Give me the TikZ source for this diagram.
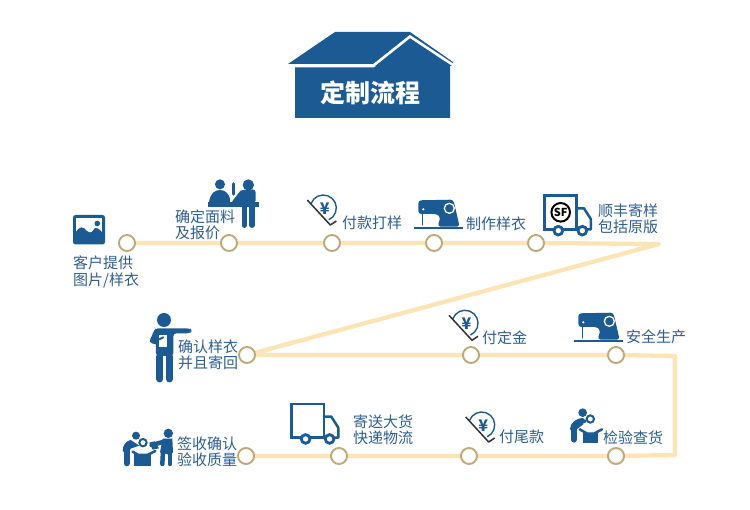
\documentclass[tikz,border=0pt]{standalone}
\usepackage{fontspec}
\setmainfont{Noto Sans CJK SC}
\usetikzlibrary{backgrounds}
\definecolor{navy}{HTML}{1B5A92}
\definecolor{txtblue}{HTML}{2E5F93}
\definecolor{trackc}{HTML}{FCE4B4}
\definecolor{ringc}{HTML}{BFA877}
\tikzset{
  stepdot/.style={circle,draw=ringc,line width=1.9pt,fill=white,minimum size=16pt,inner sep=0pt},
  lab/.style={anchor=west,text=txtblue,font=\fontsize{15}{16.5}\selectfont,align=left,inner sep=0pt},
  track/.style={draw=trackc,line width=4.3pt,line join=round,line cap=round},
  ic/.style={fill=navy,draw=none},
  iline/.style={draw=navy,line cap=round,line join=round},
}
% all icons are drawn in zoomed (3x) pixel units
\newcommand{\sewing}[2]{\begin{scope}[shift={(#1,#2)},x=0.3333pt,y=-0.3333pt]
  \path[ic,rounded corners=3pt] (55,102) -- (55,61) -- (160,59) -- (179,140) -- (113,140) -- (121,112) -- (112,102) -- cycle;
  \draw[iline,line width=1.4pt] (68,98) -- (68,135);
  \draw[iline,line width=2.4pt,line cap=butt] (42,144) -- (188,144);
  \path[fill=white] (70,88) circle[radius=3.5];
  \draw[draw=white,line width=1.3pt,fill=navy] (148,85) circle[radius=15];
\end{scope}}
\newcommand{\truckbody}[2]{\begin{scope}[shift={(#1,#2)},x=0.3333pt,y=-0.3333pt]
  \draw[iline,line width=2.5pt,line cap=butt,line join=miter] (530,148) -- (433,148) -- (433,47) -- (530,47) -- cycle;
  \draw[iline,line width=2.5pt] (530,85) -- (552,85) -- (573,118) -- (573,148) -- (530,148);
  \draw[navy,line width=2.8pt,fill=white] (475,152) circle[radius=13];
  \draw[navy,line width=2.8pt,fill=white] (547,152) circle[radius=13];
\end{scope}}
\newcommand{\yentag}[2]{\begin{scope}[shift={(#1,#2)}]
  \draw[navy,line width=1.4pt] (-12.2,-4.45) arc[start angle=200,end angle=425,radius=13];
  \draw[black!80,line width=1.5pt,line join=round] (-16,-8) -- (7,17) -- (13,13);
  \node[text=navy,inner sep=0pt,font=\fontsize{16}{16}\selectfont\bfseries] at (1.5,0.5) {¥};
\end{scope}}
\begin{document}
\begin{tikzpicture}[x=1pt,y=-1pt]
\useasboundingbox (0,0) rectangle (750,510);

% header house
\path[ic] (288,64) -- (335,32) -- (410,32) -- (453,62) -- (453,66) -- (288,66) -- cycle;
\draw[white,line width=2.6pt,line join=miter] (284,65.5) -- (373.5,65.5) -- (410,36.5) -- (456,67);
\path[fill=white] (450,66) rectangle (455,70);
\path[fill=white] (286,66) rectangle (295,70);
\path[ic] (295,67.5) -- (374,67.5) -- (410,40) -- (450,65) -- (450,118) -- (295,118) -- cycle;
\node[text=white,inner sep=0pt,font=\fontsize{25}{25}\selectfont\bfseries] (title) at (370.5,93) {定制流程};

% step dots
\node[stepdot] (a1) at (127,243) {};
\node[stepdot] (a2) at (229,243) {};
\node[stepdot] (a3) at (332,243) {};
\node[stepdot] (a4) at (434,243) {};
\node[stepdot] (a5) at (536,243) {};
\coordinate (apex) at (659,244);
\node[stepdot] (b1) at (247,355) {};
\node[stepdot] (b2) at (471,355) {};
\node[stepdot] (b3) at (616,355) {};
\coordinate (c1) at (675,356);
\coordinate (c2) at (675,455);
\node[stepdot] (d1) at (616,456) {};
\node[stepdot] (d2) at (469,456) {};
\node[stepdot] (d3) at (339,456) {};
\node[stepdot] (d4) at (246,456) {};
\begin{scope}[on background layer]
\path[fill=white] (0,0) rectangle (750,510);
\draw[track] (a1.center) -- (a2.center) -- (a3.center) -- (a4.center) -- (a5.center) -- (apex) -- (b1.center) -- (b2.center) -- (b3.center) -- (c1) -- (c2) -- (d1.center) -- (d2.center) -- (d3.center) -- (d4.center);
\end{scope}

% labels
\node[lab] at (73,272) {客户提供\\图片/样衣};
\node[lab] at (175,225) {确定面料\\及报价};
\node[lab] at (342,223) {付款打样};
\node[lab] at (466,224) {制作样衣};
\node[lab] at (598,219) {顺丰寄样\\包括原版};
\node[lab] at (178,355) {确认样衣\\并且寄回};
\node[lab] at (482,338) {付定金};
\node[lab] at (626,337) {安全生产};
\node[lab] at (177,452) {签收确认\\验收质量};
\node[lab] at (353,430) {寄送大货\\快递物流};
\node[lab] at (499,437) {付尾款};
\node[lab] at (603,438) {检验查货};

% picture icon
\path[ic,rounded corners=2.5pt] (73,215) rectangle (105,244.5);
\path[fill=white] (76,218.5) rectangle (102,238);
\path[ic] (76,240) -- (76,232) .. controls (80,226) and (83,226) .. (87,231) .. controls (91,234) and (92,232) .. (95,228) .. controls (97,227) and (99,229) .. (102,232) -- (102,240) -- cycle;
\path[ic] (97.3,223.5) circle[radius=2.8];

% two people at the table
\begin{scope}[shift={(60,170)},x=0.3333pt,y=-0.3333pt]
  \path[ic] (480,43) circle[radius=15];
  \path[ic] (565,45) circle[radius=17];
  \path[ic] (447,98) .. controls (450,70) and (465,60) .. (480,60) .. controls (495,60) and (505,70) .. (510,85) -- (510,98) -- cycle;
  \draw[iline,line width=3.6pt] (520,42) -- (520,72);
  \path[ic,rounded corners=3pt] (543,60) -- (587,58) -- (587,100) -- (540,100) -- (512,100) -- (540,64) -- cycle;
  \path[ic] (445,96) rectangle (597,110);
  \draw[iline,line width=5.2pt] (553,110) -- (553,166);
  \draw[iline,line width=5.2pt] (576,110) -- (576,166);
\end{scope}

\yentag{323.3}{208}
\yentag{465}{323.3}
\yentag{481.7}{425}

\sewing{400}{180}
\sewing{560}{293}

\truckbody{400}{180}
\truckbody{147.3}{388.3}
\draw[black,line width=2pt,fill=white] (560.7,212.3) circle[radius=9.3];
\node[inner sep=0pt,font=\fontsize{11}{11}\selectfont\bfseries,text=black] (sf) at (560.7,212.3) {SF};

% pointing man
\begin{scope}[shift={(140,300)},x=0.3333pt,y=-0.3333pt]
  \path[ic] (72,60) circle[radius=21];
  \path[ic,rounded corners=3pt] (45,85) -- (150,85) -- (156,92) -- (150,100) -- (100,100) -- (100,168) -- (48,168) -- (48,90) -- cycle;
  \draw[iline,line width=5.5pt] (50,95) -- (38,122) -- (62,128);
  \path[fill=white] (58,106) rectangle (82,140);
  \draw[iline,line width=2pt] (58,118) -- (70,112);
  \draw[iline,line width=7pt] (60,170) -- (60,237);
  \draw[iline,line width=7pt] (88,170) -- (88,237);
\end{scope}

% inspection figure
\begin{scope}[shift={(450,395)},x=0.3333pt,y=-0.3333pt]
  \path[ic] (398,53) circle[radius=13];
  \path[ic] (402,70) .. controls (380,66) and (360,85) .. (360,102) -- (368,112) -- (400,88) -- cycle;
  \draw[iline,line width=6pt] (372,95) -- (372,134);
  \draw[iline,line width=3.5pt] (378,84) -- (405,78);
  \draw[navy,line width=2pt,fill=white] (421,72) circle[radius=11];
  \path[ic] (400,114) -- (444,114) -- (444,143) -- (400,143) -- cycle;
  \draw[iline,line width=2.5pt] (389,103) -- (412,116) -- (432,116) -- (456,103);
\end{scope}

% receipt figures
\begin{scope}[shift={(110,395)},x=0.3333pt,y=-0.3333pt]
  \path[ic] (78,122) circle[radius=12];
  \path[ic] (175,115) circle[radius=14];
  \draw[navy,line width=2pt,fill=white] (99,143) circle[radius=11];
  \path[ic] (62,135) .. controls (48,138) and (38,150) .. (38,168) -- (48,176) -- (64,160) -- (88,152) -- cycle;
  \draw[iline,line width=6pt] (50,165) -- (50,205);
  \path[ic] (72,178) -- (122,178) -- (122,212) -- (72,212) -- cycle;
  \draw[iline,line width=2.5pt] (68,170) -- (85,180) -- (112,180) -- (136,168);
  \path[ic] (158,131) -- (187,131) -- (189,172) -- (180,180) -- (150,172) -- cycle;
  \draw[iline,line width=4.5pt] (163,140) -- (125,150);
  \path[ic] (118,143) -- (134,139) -- (147,160) -- (128,164) -- cycle;
  \draw[iline,line width=4.5pt] (159,170) -- (157,207);
  \draw[iline,line width=4.5pt] (180,170) -- (180,207);
\end{scope}
\end{tikzpicture}
\end{document}
